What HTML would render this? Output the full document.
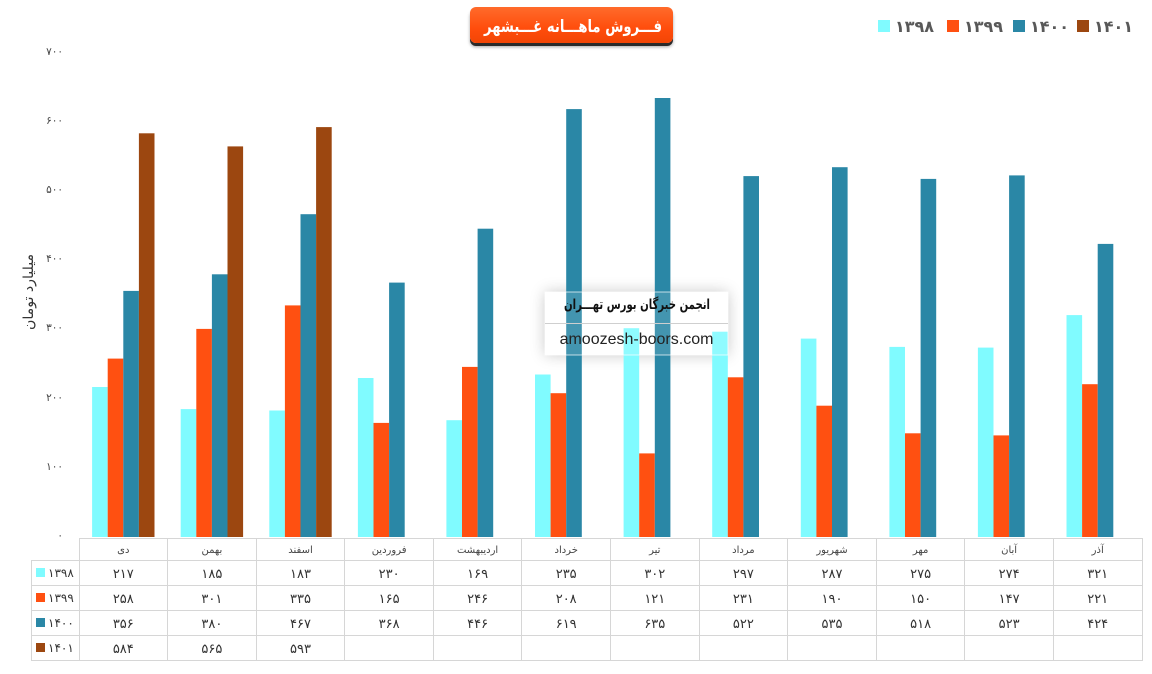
<!DOCTYPE html>
<html><head><meta charset="utf-8">
<style>
html,body{margin:0;padding:0;background:#fff;}
body{width:1152px;height:674px;position:relative;overflow:hidden;font-family:"DejaVu Sans","Liberation Sans",sans-serif;}
svg{position:absolute;left:0;top:0;z-index:2;}
.title{position:absolute;z-index:1;left:470px;top:7px;width:203px;height:36px;border-radius:6px;background:linear-gradient(#ff6b2b,#ff4d0c 60%,#f24505);box-shadow:0 3px 0 #2a2a2a,0 4px 3px rgba(0,0,0,.35);}
.wm{position:absolute;z-index:1;left:545px;top:292px;width:183px;height:63px;background:rgba(255,255,255,.12);box-shadow:0 0 14px rgba(0,0,0,.22);}
</style></head>
<body>
<div class="title"></div>
<div class="wm"></div>
<svg width="1152" height="674" viewBox="0 0 1152 674" xmlns="http://www.w3.org/2000/svg">
<g font-family="DejaVu Sans, Liberation Sans, sans-serif" font-size="10.5" fill="#444" text-anchor="end">
<text x="63" y="55">۷۰۰</text>
<text x="63" y="124">۶۰۰</text>
<text x="63" y="193">۵۰۰</text>
<text x="63" y="262">۴۰۰</text>
<text x="63" y="331">۳۰۰</text>
<text x="63" y="401">۲۰۰</text>
<text x="63" y="470">۱۰۰</text>
<text x="63" y="539">۰</text>
</g>
<text transform="translate(33,292) rotate(-90)" text-anchor="middle" font-family="DejaVu Sans, sans-serif" font-size="14" fill="#333" textLength="76" lengthAdjust="spacingAndGlyphs">میلیارد تومان</text>

<!-- 1398 -->
<g fill="#80FBFF">
<rect x="92.1" y="387.0" width="15.6" height="150.0"/>
<rect x="180.7" y="409.1" width="15.6" height="127.9"/>
<rect x="269.3" y="410.5" width="15.6" height="126.5"/>
<rect x="357.9" y="378.0" width="15.6" height="159.0"/>
<rect x="446.4" y="420.2" width="15.6" height="116.8"/>
<rect x="535.0" y="374.5" width="15.6" height="162.5"/>
<rect x="623.6" y="328.2" width="15.6" height="208.8"/>
<rect x="712.2" y="331.7" width="15.6" height="205.3"/>
<rect x="800.8" y="338.6" width="15.6" height="198.4"/>
<rect x="889.4" y="346.9" width="15.6" height="190.1"/>
<rect x="977.9" y="347.6" width="15.6" height="189.4"/>
<rect x="1066.5" y="315.1" width="15.6" height="221.9"/>
</g>
<!-- 1399 -->
<g fill="#FF5011">
<rect x="107.7" y="358.6" width="15.6" height="178.4"/>
<rect x="196.3" y="328.9" width="15.6" height="208.1"/>
<rect x="284.9" y="305.4" width="15.6" height="231.6"/>
<rect x="373.5" y="422.9" width="15.6" height="114.1"/>
<rect x="462.0" y="366.9" width="15.6" height="170.1"/>
<rect x="550.6" y="393.2" width="15.6" height="143.8"/>
<rect x="639.2" y="453.4" width="15.6" height="83.6"/>
<rect x="727.8" y="377.3" width="15.6" height="159.7"/>
<rect x="816.4" y="405.7" width="15.6" height="131.3"/>
<rect x="905.0" y="433.3" width="15.6" height="103.7"/>
<rect x="993.5" y="435.4" width="15.6" height="101.6"/>
<rect x="1082.1" y="384.2" width="15.6" height="152.8"/>
</g>
<!-- 1400 -->
<g fill="#2A87A6">
<rect x="123.3" y="290.9" width="15.6" height="246.1"/>
<rect x="211.9" y="274.3" width="15.6" height="262.7"/>
<rect x="300.5" y="214.2" width="15.6" height="322.8"/>
<rect x="389.1" y="282.6" width="15.6" height="254.4"/>
<rect x="477.6" y="228.7" width="15.6" height="308.3"/>
<rect x="566.2" y="109.1" width="15.6" height="427.9"/>
<rect x="654.8" y="98.0" width="15.6" height="439.0"/>
<rect x="743.4" y="176.1" width="15.6" height="360.9"/>
<rect x="832.0" y="167.2" width="15.6" height="369.8"/>
<rect x="920.6" y="178.9" width="15.6" height="358.1"/>
<rect x="1009.1" y="175.4" width="15.6" height="361.6"/>
<rect x="1097.7" y="243.9" width="15.6" height="293.1"/>
</g>
<!-- 1401 -->
<g fill="#9C4710">
<rect x="138.9" y="133.3" width="15.6" height="403.7"/>
<rect x="227.5" y="146.4" width="15.6" height="390.6"/>
<rect x="316.1" y="127.1" width="15.6" height="409.9"/>
</g>

<!-- watermark overlay -->
<rect x="545" y="292" width="183" height="63" fill="#fff" fill-opacity="0.12" stroke="#fff" stroke-opacity="0.7" stroke-width="1"/>
<line x1="545" y1="323.5" x2="728" y2="323.5" stroke="#cfcfcf" stroke-width="1" shape-rendering="crispEdges"/>

<!-- table grid -->
<g stroke="#d6d6d6" stroke-width="1" fill="none" shape-rendering="crispEdges">
<line x1="79" y1="538.5" x2="1142" y2="538.5"/>
<line x1="31" y1="560.5" x2="1142" y2="560.5"/>
<line x1="31" y1="585.5" x2="1142" y2="585.5"/>
<line x1="31" y1="610.5" x2="1142" y2="610.5"/>
<line x1="31" y1="635.5" x2="1142" y2="635.5"/>
<line x1="31" y1="660.5" x2="1142" y2="660.5"/>
<line x1="31.5" y1="560" x2="31.5" y2="661"/>
<line x1="79.5" y1="538" x2="79.5" y2="661"/>
<line x1="167.5" y1="538" x2="167.5" y2="661"/>
<line x1="256.5" y1="538" x2="256.5" y2="661"/>
<line x1="344.5" y1="538" x2="344.5" y2="661"/>
<line x1="433.5" y1="538" x2="433.5" y2="661"/>
<line x1="521.5" y1="538" x2="521.5" y2="661"/>
<line x1="610.5" y1="538" x2="610.5" y2="661"/>
<line x1="699.5" y1="538" x2="699.5" y2="661"/>
<line x1="787.5" y1="538" x2="787.5" y2="661"/>
<line x1="876.5" y1="538" x2="876.5" y2="661"/>
<line x1="964.5" y1="538" x2="964.5" y2="661"/>
<line x1="1053.5" y1="538" x2="1053.5" y2="661"/>
<line x1="1142.5" y1="538" x2="1142.5" y2="661"/>
</g>

<!-- category names -->
<g font-family="DejaVu Sans, sans-serif" font-size="10" fill="#444" text-anchor="middle">
<text x="123.3" y="553">دی</text>
<text x="211.9" y="553">بهمن</text>
<text x="300.5" y="553">اسفند</text>
<text x="389.1" y="553">فروردین</text>
<text x="477.6" y="553">اردیبهشت</text>
<text x="566.2" y="553">خرداد</text>
<text x="654.8" y="553">تیر</text>
<text x="743.4" y="553">مرداد</text>
<text x="832.0" y="553">شهریور</text>
<text x="920.6" y="553">مهر</text>
<text x="1009.1" y="553">آبان</text>
<text x="1097.7" y="553">آذر</text>
</g>

<!-- row legend -->
<rect x="36" y="568" width="9" height="9" fill="#80FBFF"/>
<rect x="36" y="593" width="9" height="9" fill="#FF5011"/>
<rect x="36" y="618" width="9" height="9" fill="#2A87A6"/>
<rect x="36" y="643" width="9" height="9" fill="#9C4710"/>
<g font-family="DejaVu Sans, sans-serif" font-size="12" fill="#333" text-anchor="start">
<text x="48" y="577">۱۳۹۸</text>
<text x="48" y="602">۱۳۹۹</text>
<text x="48" y="627">۱۴۰۰</text>
<text x="48" y="652">۱۴۰۱</text>
</g>

<!-- values -->
<g font-family="DejaVu Sans, sans-serif" font-size="13" fill="#333" text-anchor="middle">
<text x="123.3" y="578">۲۱۷</text><text x="211.9" y="578">۱۸۵</text><text x="300.5" y="578">۱۸۳</text><text x="389.1" y="578">۲۳۰</text><text x="477.6" y="578">۱۶۹</text><text x="566.2" y="578">۲۳۵</text><text x="654.8" y="578">۳۰۲</text><text x="743.4" y="578">۲۹۷</text><text x="832.0" y="578">۲۸۷</text><text x="920.6" y="578">۲۷۵</text><text x="1009.1" y="578">۲۷۴</text><text x="1097.7" y="578">۳۲۱</text>
<text x="123.3" y="603">۲۵۸</text><text x="211.9" y="603">۳۰۱</text><text x="300.5" y="603">۳۳۵</text><text x="389.1" y="603">۱۶۵</text><text x="477.6" y="603">۲۴۶</text><text x="566.2" y="603">۲۰۸</text><text x="654.8" y="603">۱۲۱</text><text x="743.4" y="603">۲۳۱</text><text x="832.0" y="603">۱۹۰</text><text x="920.6" y="603">۱۵۰</text><text x="1009.1" y="603">۱۴۷</text><text x="1097.7" y="603">۲۲۱</text>
<text x="123.3" y="628">۳۵۶</text><text x="211.9" y="628">۳۸۰</text><text x="300.5" y="628">۴۶۷</text><text x="389.1" y="628">۳۶۸</text><text x="477.6" y="628">۴۴۶</text><text x="566.2" y="628">۶۱۹</text><text x="654.8" y="628">۶۳۵</text><text x="743.4" y="628">۵۲۲</text><text x="832.0" y="628">۵۳۵</text><text x="920.6" y="628">۵۱۸</text><text x="1009.1" y="628">۵۲۳</text><text x="1097.7" y="628">۴۲۴</text>
<text x="123.3" y="653">۵۸۴</text><text x="211.9" y="653">۵۶۵</text><text x="300.5" y="653">۵۹۳</text>
</g>

<!-- top legend -->
<rect x="878" y="20" width="12" height="12" fill="#80FBFF"/>
<rect x="947" y="20" width="12" height="12" fill="#FF5011"/>
<rect x="1013" y="20" width="12" height="12" fill="#2A87A6"/>
<rect x="1077" y="20" width="12" height="12" fill="#9C4710"/>
<g font-family="DejaVu Sans, sans-serif" font-size="16" font-weight="bold" fill="#595959" text-anchor="start">
<text x="895" y="32">۱۳۹۸</text>
<text x="964" y="32">۱۳۹۹</text>
<text x="1030" y="32">۱۴۰۰</text>
<text x="1094" y="32">۱۴۰۱</text>
</g>

<!-- title text -->
<text x="484" y="32" font-family="DejaVu Sans, sans-serif" font-size="17" font-weight="bold" fill="#fff" direction="rtl" unicode-bidi="embed" text-anchor="end" textLength="178" lengthAdjust="spacingAndGlyphs">فـــروش ماهـــانه غـــبشهر</text>

<!-- watermark text -->
<text x="564" y="309" font-family="DejaVu Sans, sans-serif" font-size="14" font-weight="bold" fill="#111" direction="rtl" unicode-bidi="embed" text-anchor="end" textLength="146" lengthAdjust="spacingAndGlyphs">انجمن خبرگان بورس تهـــران</text>
<text x="636.5" y="344" font-family="Liberation Sans, sans-serif" font-size="16" fill="#222" text-anchor="middle">amoozesh-boors.com</text>
</svg>
</body></html>
